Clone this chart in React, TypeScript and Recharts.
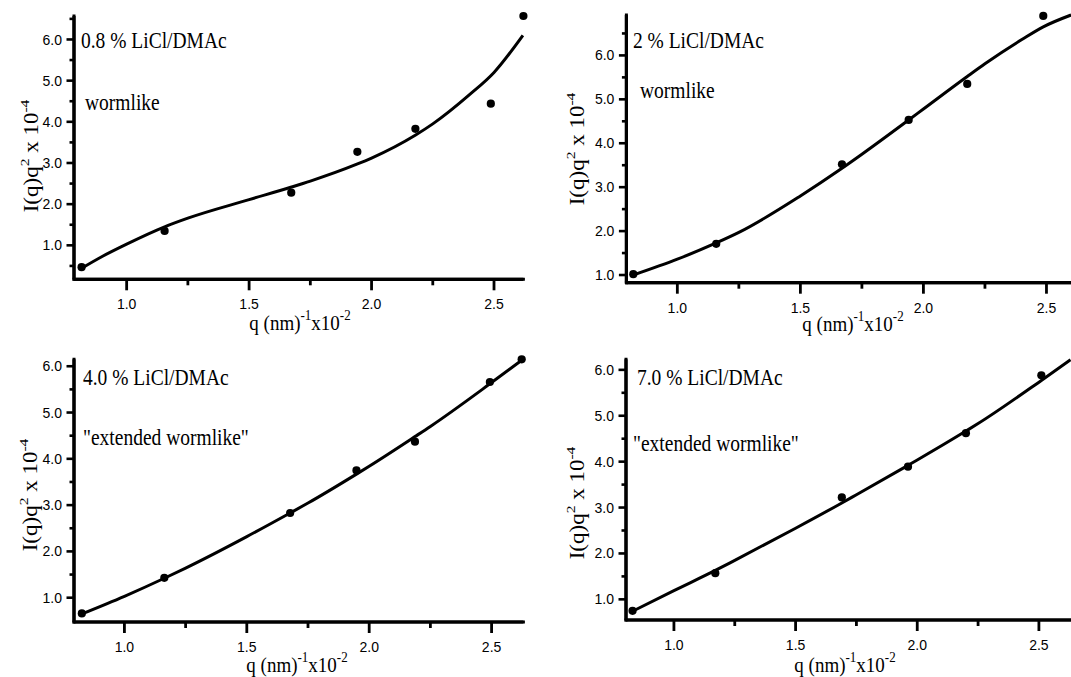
import React from 'react';
import { ComposedChart, XAxis, YAxis, Scatter, Line, ReferenceLine } from 'recharts';

// ---------- DATA ----------
// Panel A: 0.8 % LiCl/DMAc
const aPointQ = [0.816, 1.155, 1.672, 1.942, 2.179, 2.487, 2.62];
const aPointI = [0.47, 1.35, 2.28, 3.27, 3.83, 4.44, 6.57];
const aFitQ = [0.815, 0.9, 1.0, 1.155, 1.25, 1.5, 1.67, 1.75, 1.94, 2.0, 2.18, 2.25, 2.4, 2.5, 2.618];
const aFitI = [0.44, 0.73, 1.03, 1.45, 1.66, 2.11, 2.41, 2.56, 2.97, 3.12, 3.68, 3.95, 4.66, 5.2, 6.1];

// Panel B: 2 % LiCl/DMAc
const bPointQ = [0.821, 1.158, 1.669, 1.94, 2.178, 2.487];
const bPointI = [1.02, 1.71, 3.52, 4.53, 5.35, 6.9];
const bFitQ = [0.821, 1.0, 1.158, 1.25, 1.5, 1.669, 1.75, 1.94, 2.0, 2.178, 2.25, 2.4, 2.487, 2.6];
const bFitI = [1.0, 1.36, 1.73, 1.97, 2.8, 3.43, 3.75, 4.53, 4.78, 5.52, 5.81, 6.36, 6.65, 6.92];

// Panel C: 4.0 % LiCl/DMAc
const cPointQ = [0.826, 1.163, 1.677, 1.948, 2.187, 2.493, 2.623];
const cPointI = [0.66, 1.43, 2.83, 3.75, 4.37, 5.66, 6.15];
const cFitQ = [0.826, 1.0, 1.163, 1.25, 1.5, 1.677, 1.75, 1.948, 2.0, 2.187, 2.25, 2.493, 2.623];
const cFitI = [0.65, 1.03, 1.42, 1.64, 2.32, 2.83, 3.045, 3.67, 3.84, 4.48, 4.7, 5.62, 6.13];

// Panel D: 7.0 % LiCl/DMAc
const dPointQ = [0.83, 1.17, 1.69, 1.962, 2.2, 2.51];
const dPointI = [0.75, 1.57, 3.22, 3.89, 4.62, 5.88];
const dFitQ = [0.83, 1.0, 1.17, 1.25, 1.5, 1.69, 1.75, 1.962, 2.0, 2.2, 2.25, 2.51, 2.63];
const dFitI = [0.74, 1.19, 1.63, 1.85, 2.55, 3.1, 3.28, 3.92, 4.036, 4.666, 4.83, 5.77, 6.22];

// Ticks
const xTicks = [1.0, 1.25, 1.5, 1.75, 2.0, 2.25, 2.5];
const yTicksA = [0.5, 1.0, 1.5, 2.0, 2.5, 3.0, 3.5, 4.0, 4.5, 5.0, 5.5, 6.0, 6.5];
const yTicksB = [1.0, 1.5, 2.0, 2.5, 3.0, 3.5, 4.0, 4.5, 5.0, 5.5, 6.0, 6.5];
const yTicksC = [1.0, 1.5, 2.0, 2.5, 3.0, 3.5, 4.0, 4.5, 5.0, 5.5, 6.0];
const yTicksD = [1.0, 1.5, 2.0, 2.5, 3.0, 3.5, 4.0, 4.5, 5.0, 5.5, 6.0];

// Text
const titles = ['0.8 % LiCl/DMAc', '2 % LiCl/DMAc', '4.0 % LiCl/DMAc', '7.0 % LiCl/DMAc'];
const regimes = ['wormlike', 'wormlike', '"extended wormlike"', '"extended wormlike"'];

const toPts = (xs: number[], ys: number[]) => xs.map((x, i) => ({ x, y: ys[i] }));

const SANS = '"Liberation Sans", Arial, sans-serif';
const SERIF = '"Liberation Serif", "Times New Roman", serif';

type Cfg = {
  left: number; top: number; width: number; height: number;
  plotLeft: number; plotTop: number; plotRight: number; plotBottom: number;
  xDomain: [number, number]; yDomain: [number, number];
  yTicks: number[];
  points: { x: number; y: number }[];
  curve: { x: number; y: number }[];
  title: string; regime: string;
  titlePos: [number, number]; regimePos: [number, number];
  yLabelPos: [number, number]; xLabelPos: [number, number];
};

const panels: Cfg[] = [
  {
    left: 0, top: 0, width: 540, height: 330,
    plotLeft: 74, plotTop: 16, plotRight: 523.4, plotBottom: 279.3,
    xDomain: [0.785, 2.62], yDomain: [0.175, 6.57], yTicks: yTicksA,
    points: toPts(aPointQ, aPointI), curve: toPts(aFitQ, aFitI),
    title: titles[0], regime: regimes[0],
    titlePos: [81, 48], regimePos: [85, 110], yLabelPos: [38, 156], xLabelPos: [300, 330],
  },
  {
    left: 530, top: 0, width: 560, height: 330,
    plotLeft: 96.4, plotTop: 15, plotRight: 546, plotBottom: 282.7,
    xDomain: [0.793, 2.62], yDomain: [0.825, 6.92], yTicks: yTicksB,
    points: toPts(bPointQ, bPointI), curve: toPts(bFitQ, bFitI),
    title: titles[1], regime: regimes[1],
    titlePos: [633, 48], regimePos: [640, 98], yLabelPos: [584, 149], xLabelPos: [853, 331],
  },
  {
    left: 0, top: 330, width: 540, height: 347,
    plotLeft: 74, plotTop: 29.3, plotRight: 523.4, plotBottom: 292,
    xDomain: [0.794, 2.63], yDomain: [0.475, 6.145], yTicks: yTicksC,
    points: toPts(cPointQ, cPointI), curve: toPts(cFitQ, cFitI),
    title: titles[2], regime: regimes[2],
    titlePos: [83, 385], regimePos: [83, 445], yLabelPos: [37, 495], xLabelPos: [297, 672],
  },
  {
    left: 530, top: 330, width: 560, height: 347,
    plotLeft: 96, plotTop: 29.3, plotRight: 545.4, plotBottom: 290,
    xDomain: [0.803, 2.65], yDomain: [0.55, 6.23], yTicks: yTicksD,
    points: toPts(dPointQ, dPointI), curve: toPts(dFitQ, dFitI),
    title: titles[3], regime: regimes[3],
    titlePos: [637, 385], regimePos: [633, 451], yLabelPos: [584, 503], xLabelPos: [845, 672],
  },
];

function Panel({ cfg }: { cfg: Cfg }) {
  const { width, height, plotLeft, plotTop, plotRight, plotBottom } = cfg;

  const YTick = (props: any) => {
    const { y, payload } = props;
    const v = payload.value as number;
    const major = Math.abs(v - Math.round(v)) < 1e-6;
    return (
      <g>
        <line x1={plotLeft - (major ? 7.5 : 4.5)} x2={plotLeft} y1={y} y2={y} stroke="#000" strokeWidth={2.6} />
        {major && (
          <text x={plotLeft - 12} y={y} dy="0.36em" textAnchor="end" fontFamily={SANS} fontSize={14} fill="#000">
            {v.toFixed(1)}
          </text>
        )}
      </g>
    );
  };

  const XTick = (props: any) => {
    const { x, payload } = props;
    const v = payload.value as number;
    const major = Math.abs(v * 2 - Math.round(v * 2)) < 1e-6;
    return (
      <g>
        <line x1={x} x2={x} y1={plotBottom} y2={plotBottom + (major ? 11 : 6)} stroke="#000" strokeWidth={2.8} />
        {major && (
          <text x={x} y={plotBottom + 25} dy="0.36em" textAnchor="middle" fontFamily={SANS} fontSize={14} fill="#000">
            {v.toFixed(1)}
          </text>
        )}
      </g>
    );
  };

  const axisLine = { stroke: '#000', strokeWidth: 3, strokeLinecap: 'square' as const };

  return (
    <div style={{ position: 'absolute', left: cfg.left, top: cfg.top, width, height }}>
      <ComposedChart
        width={width}
        height={height}
        margin={{ top: plotTop, right: width - plotRight, bottom: 0, left: 0 }}
      >
        <XAxis
          type="number"
          dataKey="x"
          domain={cfg.xDomain}
          ticks={xTicks}
          interval={0}
          height={height - plotBottom}
          tick={XTick}
          tickLine={false}
          tickSize={0}
          stroke="#000"
          strokeWidth={3}
          axisLine={axisLine}
        />
        <YAxis
          type="number"
          dataKey="y"
          domain={cfg.yDomain}
          ticks={cfg.yTicks}
          interval={0}
          width={plotLeft}
          tick={YTick}
          tickLine={false}
          tickSize={0}
          stroke="#000"
          strokeWidth={3}
          axisLine={axisLine}
        />
        <ReferenceLine x={cfg.xDomain[0]} stroke="#000" strokeWidth={3.2} ifOverflow="visible" />
        <ReferenceLine y={cfg.yDomain[0]} stroke="#000" strokeWidth={3.2} ifOverflow="visible" />
        <Line
          data={cfg.curve}
          dataKey="y"
          type="monotone"
          stroke="#000"
          strokeWidth={3}
          dot={false}
          activeDot={false}
          isAnimationActive={false}
        />
        <Scatter
          data={cfg.points}
          fill="#000"
          isAnimationActive={false}
          shape={(p: any) => <circle cx={p.cx} cy={p.cy} r={4.1} fill="#000" />}
        />
      </ComposedChart>
    </div>
  );
}

function Labels({ cfg }: { cfg: Cfg }) {
  const [tx, ty] = cfg.titlePos;
  const [rx, ry] = cfg.regimePos;
  const [ylx, yly] = cfg.yLabelPos;
  const [xlx, xly] = cfg.xLabelPos;
  return (
    <g fill="#000" fontFamily={SERIF}>
      <g transform={`translate(${tx},${ty}) scale(1,1.15)`}>
        <text x={0} y={0} fontSize={19.5}>{cfg.title}</text>
      </g>
      <g transform={`translate(${rx},${ry}) scale(1,1.15)`}>
        <text x={0} y={0} fontSize={19.5}>{cfg.regime}</text>
      </g>
      <g transform={`translate(${ylx},${yly}) rotate(-90) scale(1.15,1)`}>
        <text x={0} y={0} fontSize={20} textAnchor="middle">
          I(q)q<tspan fontSize={13.5} dy={-9}>2</tspan>
          <tspan dy={9}> x 10</tspan>
          <tspan fontSize={13.5} dy={-9}>-4</tspan>
        </text>
      </g>
      <g transform={`translate(${xlx},${xly}) scale(1,1.15)`}>
        <text x={0} y={0} fontSize={19} textAnchor="middle">
          q (nm)<tspan fontSize={13} dy={-9}>-1</tspan>
          <tspan dy={9}>x10</tspan>
          <tspan fontSize={13} dy={-9}>-2</tspan>
        </text>
      </g>
    </g>
  );
}

export default function App() {
  return (
    <div
      style={{
        position: 'absolute',
        left: 0,
        top: 0,
        width: 1071,
        height: 677,
        overflow: 'hidden',
        background: '#fff',
      }}
    >
      {panels.map((cfg, i) => (
        <Panel key={i} cfg={cfg} />
      ))}
      <svg
        width={1071}
        height={677}
        style={{ position: 'absolute', left: 0, top: 0, pointerEvents: 'none' }}
      >
        {panels.map((cfg, i) => (
          <Labels key={i} cfg={cfg} />
        ))}
      </svg>
    </div>
  );
}
